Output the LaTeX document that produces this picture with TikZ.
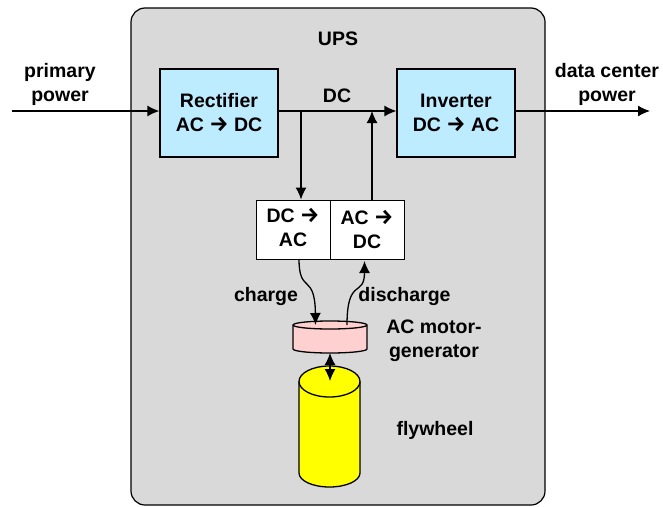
\documentclass[tikz,border=0pt]{standalone}
\usepackage{fontspec}
\setmainfont{Liberation Sans}
\newfontfamily\arrowfont[Scale=1.1]{Fira Sans}
\usetikzlibrary{arrows.meta}
\definecolor{upsgray}{RGB}{217,217,217}
\definecolor{convblue}{RGB}{189,235,255}
\definecolor{motorpink}{RGB}{255,208,208}
\definecolor{flyyellow}{RGB}{255,255,0}
\newcommand{\toarrow}{{\arrowfont →}}
\tikzset{
  lbl/.style={font=\fontsize{19.5}{24}\selectfont\bfseries, align=center, inner sep=0pt},
  conv/.style={draw, line width=1.2pt, fill=convblue, minimum width=118pt, minimum height=88pt, inner sep=0pt},
  cell/.style={draw, line width=1pt, fill=white, minimum width=74pt, minimum height=59pt, inner sep=0pt},
  drum/.style={draw, line width=1.3pt, line join=round}
}
\begin{document}
\begin{tikzpicture}[x=1pt, y=-1pt, >={Latex[length=12pt,width=11pt]}, line width=1.3pt]
\useasboundingbox (0,0) rectangle (663,506);
\fill[white] (0,0) rectangle (663,506);

\node[draw, line width=1.2pt, fill=upsgray, rounded corners=14pt, minimum width=414pt, minimum height=497pt] (ups) at (338,256.5) {};
\node[lbl] (upslabel) at (338,39) {UPS};

% converters
\node[conv] (rect) at (219,113) {};
\node[lbl] (recttext) at (219,112.5) {Rectifier\\AC \toarrow{} DC};
\node[conv] (inv) at (456,113) {};
\node[lbl] (invtext) at (456,112.5) {Inverter\\DC \toarrow{} AC};

\node[cell] (dcac) at (293,229.5) {};
\node[lbl] (dcactext) at (293,227.5) {DC \toarrow\\AC};
\node[cell] (acdc) at (367,229.5) {};
\node[lbl] (acdctext) at (367,229.5) {AC \toarrow\\DC};

% storage
\path[drum, fill=motorpink] (293,325) -- (293,349) arc[start angle=180, end angle=0, x radius=37, y radius=4] -- (367,325) arc[start angle=0, end angle=-180, x radius=37, y radius=4] -- cycle;
\path[drum] (293,325) arc[start angle=180, end angle=0, x radius=37, y radius=4];
\path[drum, fill=flyyellow] (299,381.5) -- (299,473) arc[start angle=180, end angle=0, x radius=30.5, y radius=14] -- (360,381.5) arc[start angle=0, end angle=-180, x radius=30.5, y radius=15.5] -- cycle;
\path[drum] (299,381.5) arc[start angle=180, end angle=0, x radius=30.5, y radius=15.5];

\coordinate (in) at (12,111);
\coordinate (out) at (650,111);
\coordinate (busdown) at (301,111);
\coordinate (busup) at (372,111);
\coordinate (chargeend) at (315.5,325);
\coordinate (dischargestart) at (347,325);
\coordinate (dischargeend) at (364.5,261);
\coordinate (chargestart) at (299,259);
\coordinate (motorbottom) at (330,353);
\coordinate (flytop) at (330,381);

\draw[->] (in) -- (rect.west |- in);
\draw[->] (rect.east |- in) -- (inv.west |- in);
\draw[->] (inv.east |- in) -- (out);
\draw[->] (busdown) -- (busdown |- dcac.north);
\draw[->] (busup |- acdc.north) -- (busup);

\draw[->] (chargestart) .. controls (299,295) and (315,272) .. (chargeend);
\draw[->] (dischargestart) .. controls (347,276) and (364.5,298) .. (dischargeend);
\draw[<->] (motorbottom) -- (flytop);

\node[lbl] (primary) at (60,84.5) {primary\\power};
\node[lbl] (dclabel) at (337,96) {DC};
\node[lbl] (datacenter) at (607,84.5) {data center\\power};
\node[lbl] (chargelabel) at (266,296) {charge};
\node[lbl] (dischargelabel) at (404.5,296) {discharge};
\node[lbl] (motorlabel) at (434,341) {AC motor-\\generator};
\node[lbl] (flylabel) at (435,430) {flywheel};
\end{tikzpicture}
\end{document}
